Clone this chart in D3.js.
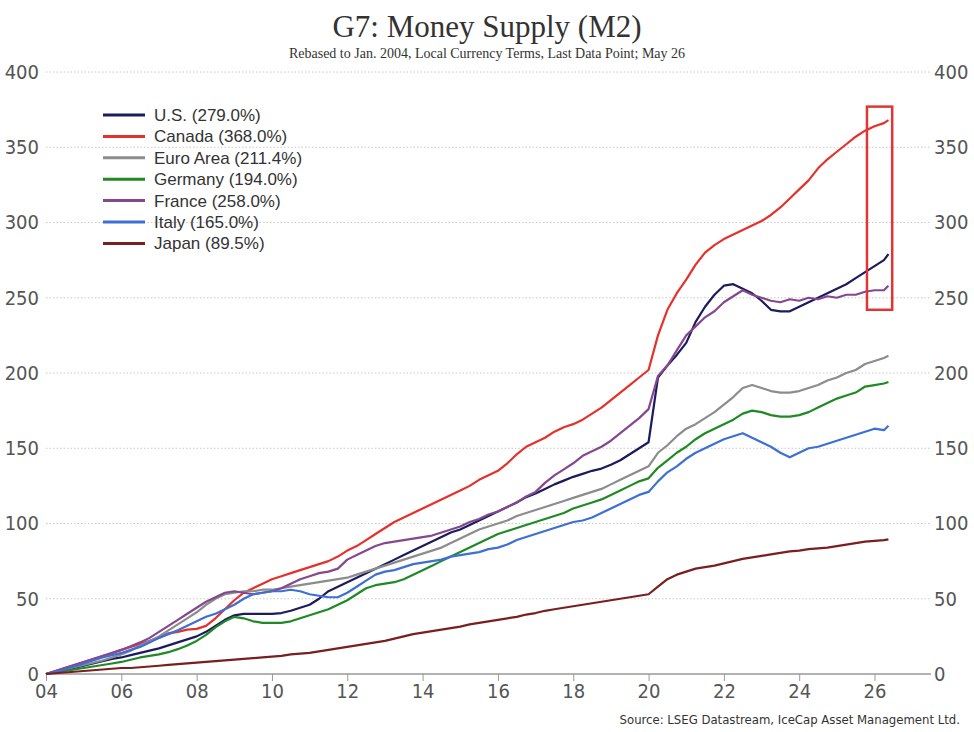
<!DOCTYPE html>
<html><head><meta charset="utf-8">
<script src="https://cdn.jsdelivr.net/npm/d3@7/dist/d3.min.js"></script>
<style>body{margin:0;background:#fff}svg{display:block}</style>
</head><body><svg id="c" width="974" height="732"></svg>
<script>
// quarterly dates (decimal years) + last data point May 2026
const dates = d3.range(0, 90).map(i => 2004 + i * 0.25).concat([2026.37]);

const us = [0,1.5,3,4, 5.5,7,8.5,10, 11,12.5,14,15.5, 17,19,21,23, 25,28,32,36, 39,40,40,40,
 40,40.5,42,44, 46,50,55,58, 61,64,67,70, 73,76,79,82, 85,88,91,94, 96,99,102,105, 108,111,114,117.5,
 120,123,126,128.5, 131,133,135,136.5, 139,142,146,150, 154,197,205,212, 220,234,244,252,
 258,259,256,253, 248,242,241,241, 244,247,250,253, 256,259,263,267, 271,275,279];
const canada = [0,2,4,6, 8,10,12,14, 16,18,20,22, 24,27,28,29.5, 30,32,37,43, 49,54,57,60,
 63,65,67,69, 71,73,75,78, 82,85,89,93, 97,101,104,107, 110,113,116,119, 122,125,129,132,
 135,140,146,151, 154,157,161,164, 166,169,173,177, 182,187,192,197, 202,225,242,253,
 262,272,280,285, 289,292,295,298, 301,305,310,316, 322,328,336,342, 347,352,357,361, 364,366,368];
const euroArea = [0,1.5,3,4.5, 6,7.5,9,11, 13,15.5,19,22, 25,29,33,37, 41,46,50,53, 54,55,55,56,
 56,57,58,59, 60,61,62,63, 64,66,68,70, 72,74,76,78, 80,82,84,87, 90,93,96,98,
 100,102,105,107, 109,111,113,115, 117,119,121,123, 126,129,132,135, 138,147,152,158,
 163,166,170,174, 179,184,190,192, 190,188,187,187, 188,190,192,195, 197,200,202,206, 208,210,211.4];
const germany = [0,1,2,3, 4,5,6,7, 8,9.5,11,12, 13,14.5,16.5,19, 22,26,31,35, 38,37,35,34,
 34,34,35,37, 39,41,43,46, 49,53,57,59, 60,61,63,66, 69,72,75,78, 81,84,87,90,
 93,95,97,99, 101,103,105,107, 110,112,114,116, 119,122,125,128, 130,137,142,147,
 151,156,160,163, 166,169,173,175, 174,172,171,171, 172,174,177,180, 183,185,187,191, 192,193,194];
const france = [0,2,4,6, 8,10,12,14, 16,18.5,21,24, 28,32,36,40, 44,48,51,54, 55,54,53,54,
 55,57,60,63, 65,67,68,70, 76,79,82,85, 87,88,89,90, 91,92,94,96, 98,101,103,106,
 108,111,114,118, 121,127,132,136, 140,145,148,151, 155,160,165,170, 176,198,205,215,
 225,231,237,241, 247,251,255,252, 250,248,247,249, 248,250,249,251, 250,252,252,254, 255,255,258];
const italy = [0,1.5,3,5, 7,9,11,12.5, 14,16,18,21, 24,26.5,29,32, 35,38,40,43, 46,50,53,54,
 55,55,56,55, 53,52,51,51, 54,58,62,66, 68,69,71,73, 74,75,76,78, 79,80,81,83,
 84,86,89,91, 93,95,97,99, 101,102,104,107, 110,113,116,119, 121,128,134,138,
 143,147,150,153, 156,158,160,157, 154,151,147,144, 147,150,151,153, 155,157,159,161, 163,162,165];
const japan = [0,0.5,1,1.5, 2,2.5,3,3.5, 4,4,4.5,5, 5.5,6,6.5,7, 7.5,8,8.5,9, 9.5,10,10.5,11,
 11.5,12,13,13.5, 14,15,16,17, 18,19,20,21, 22,23.5,25,26.5, 27.5,28.5,29.5,30.5, 31.5,33,34,35,
 36,37,38,39.5, 40.5,42,43,44, 45,46,47,48, 49,50,51,52, 53,58,63,66,
 68,70,71,72, 73.5,75,76.5,77.5, 78.5,79.5,80.5,81.5, 82,83,83.5,84, 85,86,87,88, 88.5,89,89.5];

const seriesNames = ["U.S. (279.0%)","Canada (368.0%)","Euro Area (211.4%)","Germany (194.0%)","France (258.0%)","Italy (165.0%)","Japan (89.5%)"];
const seriesValues = [us, canada, euroArea, germany, france, italy, japan];
const seriesColors = ["#1b1b5e","#e5312b","#8c8c8c","#1f8a25","#85488f","#3d6fd4","#7a1f1f"];
const yTicks = [0,50,100,150,200,250,300,350,400];
const xTicks = d3.range(2004, 2027, 2);
const highlightBox = {x0: 2025.8, x1: 2026.47, y0: 242, y1: 377};

const svg = d3.select("#c");
const x = d3.scaleLinear().domain([2004, 2027.5]).range([46, 931]);
const y = d3.scaleLinear().domain([0, 400]).range([674, 72]);
const axisFont = "'Liberation Sans Narrow','DejaVu Sans Condensed','Liberation Sans',sans-serif";

// gridlines
svg.append("g").selectAll("line").data(yTicks.filter(d => d > 0)).join("line")
  .attr("x1", x(2004)).attr("x2", x(2027.5)).attr("y1", d => y(d)).attr("y2", d => y(d))
  .attr("stroke", "#c8c8c8").attr("stroke-width", 1).attr("stroke-dasharray", "1.5,2");

// y axes
const yl = svg.append("g").attr("transform", `translate(${x(2004) - 7},0)`)
  .call(d3.axisLeft(y).tickValues(yTicks).tickSize(0).tickPadding(0));
const yr = svg.append("g").attr("transform", `translate(${x(2027.5) + 3},0)`)
  .call(d3.axisRight(y).tickValues(yTicks).tickSize(0).tickPadding(0));
[yl, yr].forEach(g => {
  g.select(".domain").remove();
  g.selectAll("text").attr("font-family", axisFont).attr("font-size", 20).attr("fill", "#555");
});

// x axis
const xa = svg.append("g").attr("transform", `translate(0,${y(0)})`)
  .call(d3.axisBottom(x).tickValues(xTicks).tickFormat(d => String(d).slice(2)).tickSize(7).tickPadding(3));
xa.select(".domain").attr("stroke", "#999").attr("stroke-width", 1.5).attr("d", `M${x(2004)},0H${x(2027.5)}`);
xa.selectAll(".tick line").attr("stroke", "#999");
xa.selectAll("text").attr("font-family", axisFont).attr("font-size", 20).attr("fill", "#555");

// lines
const line = d3.line().x((d, i) => x(dates[i])).y(d => y(d));
svg.append("g").selectAll("path").data(seriesValues).join("path")
  .attr("d", d => line(d)).attr("fill", "none")
  .attr("stroke", (d, i) => seriesColors[i]).attr("stroke-width", 2.2).attr("stroke-linejoin", "round");

// highlight box
svg.append("rect")
  .attr("x", x(highlightBox.x0)).attr("y", y(highlightBox.y1))
  .attr("width", x(highlightBox.x1) - x(highlightBox.x0)).attr("height", y(highlightBox.y0) - y(highlightBox.y1))
  .attr("fill", "none").attr("stroke", "#e03535").attr("stroke-width", 2.5);

// legend
const lg = svg.append("g").selectAll("g").data(seriesNames).join("g")
  .attr("transform", (d, i) => `translate(103,${115 + i * 21.4})`);
lg.append("line").attr("x1", 0).attr("x2", 42).attr("stroke", (d, i) => seriesColors[i]).attr("stroke-width", 3);
lg.append("text").attr("x", 51).attr("y", 6).text(d => d)
  .attr("font-family", "'Liberation Sans',Arial,sans-serif").attr("font-size", 17).attr("fill", "#333");

// titles
svg.append("text").attr("x", 487).attr("y", 37).attr("text-anchor", "middle")
  .attr("font-family", "'Liberation Serif','DejaVu Serif',serif").attr("font-size", 31).attr("fill", "#333")
  .text("G7: Money Supply (M2)");
svg.append("text").attr("x", 487).attr("y", 58).attr("text-anchor", "middle")
  .attr("font-family", "'Liberation Serif','DejaVu Serif',serif").attr("font-size", 14).attr("fill", "#333")
  .text("Rebased to Jan. 2004, Local Currency Terms, Last Data Point; May 26");
svg.append("text").attr("x", 960).attr("y", 724).attr("text-anchor", "end")
  .attr("font-family", axisFont).attr("font-size", 13).attr("fill", "#333")
  .text("Source: LSEG Datastream, IceCap Asset Management Ltd.");
</script></body></html>
